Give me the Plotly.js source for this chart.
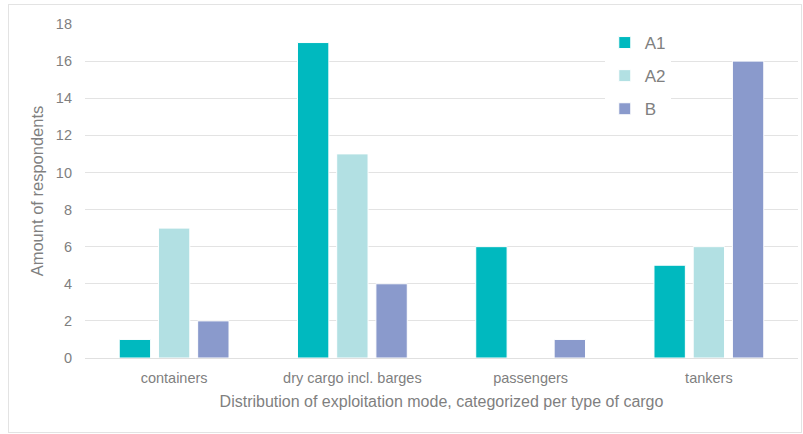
<!DOCTYPE html>
<html>
<head>
<meta charset="utf-8">
<script src="https://cdn.plot.ly/plotly-3.0.1.min.js"></script>
<style>
html,body{margin:0;padding:0;background:#fff;}
#wrap{position:relative;width:803px;height:434px;}
#chart{position:absolute;left:0;top:0;width:803px;height:434px;}
#frame{position:absolute;left:8px;top:4px;width:792px;height:427px;border:1px solid #e3e3e3;pointer-events:none;}
</style>
</head>
<body>
<div id="wrap"><div id="chart"></div><div id="frame"></div></div>
<script>
const categories = ["containers", "dry cargo incl. barges", "passengers", "tankers"];
const seriesNames = ["A1", "A2", "B"];
const valuesA1 = [1, 17, 6, 5];
const valuesA2 = [7, 11, 0, 6];
const valuesB = [2, 4, 1, 16];
const colors = ["#00B9BF", "#B2E0E3", "#8A9ACC"];
const yTicks = [0, 2, 4, 6, 8, 10, 12, 14, 16, 18];

const font = "Liberation Sans, Arial, sans-serif";
const allVals = [valuesA1, valuesA2, valuesB];
const traces = seriesNames.map((n, i) => ({
  type: "bar",
  name: n,
  x: categories,
  y: allVals[i],
  legendgroup: n,
  marker: {color: colors[i], line: {color: "#ffffff", width: 1}},
  hoverinfo: "skip"
}));

const layout = {
  width: 803, height: 434,
  margin: {l: 85, r: 5, t: 24, b: 76},
  paper_bgcolor: "rgba(0,0,0,0)",
  plot_bgcolor: "rgba(0,0,0,0)",
  barmode: "group",
  bargap: 0.34,
  bargroupgap: 0.2,
  font: {family: font, color: "#7f7f7f", size: 14},
  xaxis: {
    showgrid: false, ticks: "", showline: false,
    tickfont: {size: 14.5, color: "#7f7f7f"},
    ticklabelstandoff: 9,
    title: {text: "Distribution of exploitation mode, categorized per type of cargo", font: {size: 16, color: "#7f7f7f"}, standoff: 11}
  },
  yaxis: {
    range: [0, 18], tickvals: yTicks, ticktext: yTicks.map(String),
    showgrid: true, gridcolor: "#e3e3e3", gridwidth: 1,
    zeroline: true, zerolinecolor: "#e0e0e0", zerolinewidth: 1,
    ticks: "", ticklen: 0,
    ticklabelstandoff: 12,
    tickfont: {size: 14.5, color: "#7f7f7f"},
    title: {text: "Amount of respondents", font: {size: 16.5, color: "#7f7f7f"}, standoff: 8}
  },
  showlegend: true,
  legend: {
    x: 0.729, y: 0.997, xanchor: "left", yanchor: "top",
    bgcolor: "#ffffff",
    font: {size: 17, color: "#808080", family: font},
    traceorder: "grouped",
    tracegroupgap: 8,
    itemwidth: 30
  }
};
Plotly.newPlot("chart", traces, layout, {staticPlot: true, displayModeBar: false});
</script>
</body>
</html>
